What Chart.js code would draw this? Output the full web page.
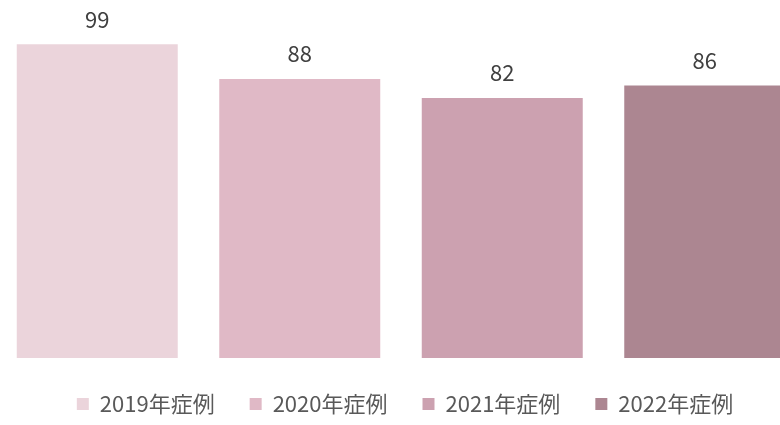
<!DOCTYPE html>
<html>
<head>
<meta charset="utf-8">
<script src="https://cdn.jsdelivr.net/npm/chart.js@4/dist/chart.umd.min.js"></script>
<style>
  html, body { margin: 0; padding: 0; background: #ffffff; overflow: hidden; }
  #wrap { position: absolute; left: -4px; top: 0; width: 818px; height: 425px; }
</style>
</head>
<body>
<div id="wrap"><canvas id="c"></canvas></div>
<script>
const categories = ['2019年症例', '2020年症例', '2021年症例', '2022年症例'];
const values = [99, 88, 82, 86];
const barColors = ['#ebd4db', '#e0b9c6', '#cca1b0', '#ac8691'];
const yMin = 0;
const yMax = 100;

const FONT = "'Noto Sans CJK JP', 'Noto Sans', sans-serif";

const valueLabels = {
  id: 'valueLabels',
  afterDatasetsDraw(chart) {
    const ctx = chart.ctx;
    const meta = chart.getDatasetMeta(0);
    ctx.save();
    ctx.font = '22px ' + FONT;
    ctx.fillStyle = '#404040';
    ctx.textAlign = 'center';
    ctx.textBaseline = 'middle';
    meta.data.forEach((bar, i) => {
      ctx.fillText(String(values[i]), bar.x, bar.y - 25);
    });
    ctx.restore();
  }
};

new Chart(document.getElementById('c'), {
  type: 'bar',
  data: {
    labels: categories,
    datasets: [{
      data: values,
      backgroundColor: barColors,
      borderWidth: 0,
      categoryPercentage: 1.0,
      barPercentage: 0.795
    }]
  },
  options: {
    responsive: true,
    maintainAspectRatio: false,
    animation: false,
    layout: { padding: { top: 41, left: 0, right: 0, bottom: 0 } },
    scales: {
      x: { display: false, offset: true },
      y: {
        display: false,
        min: yMin,
        max: yMax
      },
      yr: {
        position: 'right',
        display: true,
        grid: { display: false },
        border: { display: false },
        ticks: { display: false },
        afterFit(scale) { scale.width = 8; }
      }
    },
    plugins: {
      tooltip: { enabled: false },
      legend: {
        display: true,
        position: 'bottom',
        maxHeight: 69,
        labels: {
          boxWidth: 12,
          boxHeight: 12,
          padding: 35,
          color: '#595959',
          font: { family: FONT, size: 22 },
          generateLabels(chart) {
            return categories.map((c, i) => ({
              text: c,
              fillStyle: barColors[i],
              strokeStyle: barColors[i],
              lineWidth: 0,
              hidden: false,
              index: i,
              fontColor: '#595959'
            }));
          }
        },
        onClick() {}
      }
    }
  },
  plugins: [valueLabels]
});
</script>
</body>
</html>
